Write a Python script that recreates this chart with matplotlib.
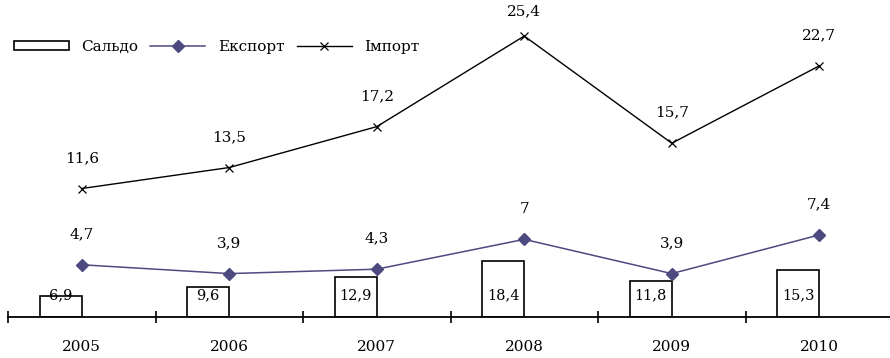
import matplotlib
matplotlib.use("Agg")
import matplotlib.pyplot as plt
import numpy as np

# data
years = ["2005", "2006", "2007", "2008", "2009", "2010"]
saldo = [6.9, 9.6, 12.9, 18.4, 11.8, 15.3]
export = [4.7, 3.9, 4.3, 7.0, 3.9, 7.4]
imports = [11.6, 13.5, 17.2, 25.4, 15.7, 22.7]

plt.rcParams['font.family'] = ['DejaVu Serif']
plt.rcParams['font.size'] = 11

def fmt(v):
    s = ('%.1f' % v).rstrip('0').rstrip('.')
    return s.replace('.', ',')

W, H = 890, 358
fig = plt.figure(figsize=(W / 100, H / 100), dpi=100)
ax = fig.add_axes([8 / W, 41.3 / H, 885 / W, 316.7 / H])
ax2 = ax.twinx()

x = np.arange(len(years))
export_col = '#4d4a80'

# bars (saldo) sit left of the category centre
bars = ax.bar(x, saldo, width=-0.285, align='edge', color='white',
              edgecolor='black', linewidth=1.2, label='Сальдо')
for xi, v in zip(x, saldo):
    ax.annotate(fmt(v), (xi - 0.1425, 0), xytext=(0, 15.5),
                textcoords='offset points', ha='center', va='center',
                fontsize=10.5)

l1, = ax2.plot(x, export, color=export_col, lw=1.1, marker='D',
               markersize=6.5, label='Експорт')
l2, = ax2.plot(x, imports, color='black', lw=1.0, marker='x',
               markersize=6, markeredgewidth=0.9, label='Імпорт')
for xi, v in zip(x, export):
    ax2.annotate(fmt(v), (xi, v), xytext=(0, 22), textcoords='offset points',
                 ha='center', va='center')
for xi, v in zip(x, imports):
    off = 18 if v > 25 else 22
    ax2.annotate(fmt(v), (xi, v), xytext=(0, off), textcoords='offset points',
                 ha='center', va='center')

ax.set_xlim(-0.5, 5.5)
ax.set_ylim(0, 316.7 / 3.05)
ax2.set_ylim(0, 316.7 / 11.05)

for a in (ax, ax2):
    for s in ('top', 'right', 'left'):
        a.spines[s].set_visible(False)
    a.set_yticks([])
ax2.spines['bottom'].set_visible(False)
ax.spines['bottom'].set_linewidth(1.3)

ax.set_xticks(x)
ax.set_xticklabels(years)
ax.tick_params(axis='x', which='major', length=0, pad=17)
ax.set_xticks(np.arange(-0.5, 5.0, 1.0), minor=True)
ax.tick_params(axis='x', which='minor', direction='inout', length=9,
               width=1.2)

ax2.legend([bars, l1, l2], ['Сальдо', 'Експорт', 'Імпорт'],
           loc='center left', bbox_to_anchor=(14 / W, 1 - 47 / H),
           bbox_transform=fig.transFigure, ncol=3, frameon=False,
           borderaxespad=0, borderpad=0, handlelength=3.6,
           handleheight=0.55, handletextpad=0.8, columnspacing=0.8,
           fontsize=11)

fig.savefig('out.png', dpi=100)
